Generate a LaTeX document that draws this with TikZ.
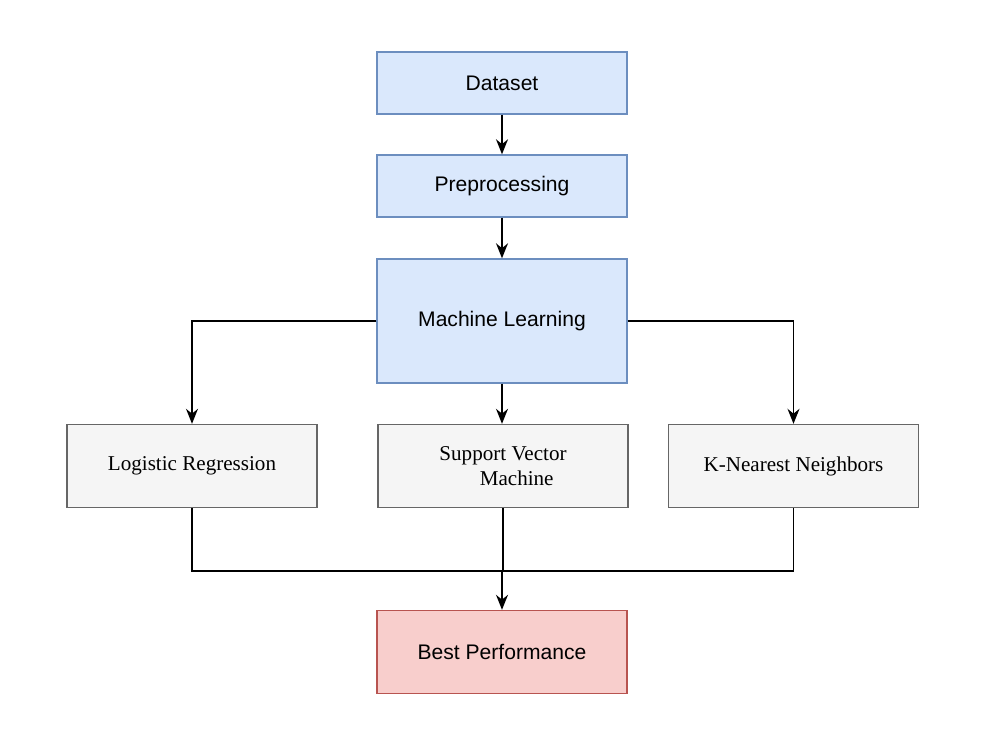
\documentclass[tikz,border=0pt]{standalone}
\usepackage{fontspec}
\setmainfont{Liberation Serif}
\setsansfont{Liberation Sans}
\usetikzlibrary{calc}
\usetikzlibrary{arrows.meta}

\definecolor{bluefill}{HTML}{DAE8FC}
\definecolor{blueline}{HTML}{6C8EBF}
\definecolor{grayfill}{HTML}{F5F5F5}
\definecolor{grayline}{HTML}{666666}
\definecolor{redfill}{HTML}{F8CECC}
\definecolor{redline}{HTML}{B85450}

\tikzset{
    stagebox/.style={draw=blueline, fill=bluefill, thick, minimum width=5cm, minimum height=1.24cm, font=\sffamily\large},
    modelbox/.style={draw=grayline, fill=grayfill, thick, minimum width=5cm, minimum height=1.66cm, font=\large, align=center},
    resultbox/.style={draw=redline, fill=redfill, thick, minimum width=5cm, minimum height=1.66cm, font=\sffamily\large},
    flow/.style={thick, -{Stealth[length=3mm,width=2.4mm]}}
}

\begin{document}
\begin{tikzpicture}
    \useasboundingbox (0,0) rectangle (19.72,-14.9);

    %stages
    \node[stagebox] (data) at (10.04,-1.66) {Dataset};
    \node[stagebox] (prep) at (10.04,-3.72) {Preprocessing};
    \node[stagebox, minimum height=2.48cm] (ml) at (10.04,-6.42) {Machine Learning};

    %models
    \node[modelbox] (lr) at (3.84,-9.32) {Logistic Regression};
    \node[modelbox] (svm) at (10.06,-9.32) {Support Vector\\\hspace{1.3em}Machine};
    \node[modelbox] (knn) at (15.87,-9.32) {K-Nearest Neighbors};

    %result
    \node[resultbox] (best) at (10.04,-13.04) {Best Performance};
    \coordinate (merge) at (10.04,-11.42);

    %arrows
    \draw[flow] (data) -- (prep);
    \draw[flow] (prep) -- (ml);
    \draw[flow] (ml.west) -| (lr.north);
    \draw[flow] (ml.south) -- (ml.south |- svm.north);
    \draw[flow] (ml.east) -| (knn.north);

    \draw[thick] (lr.south) |- (merge);
    \draw[thick] (knn.south) |- (merge);
    \draw[thick] (svm.south) -- (svm.south |- merge);
    \draw[flow] (merge) -- (best);
\end{tikzpicture}
\end{document}
